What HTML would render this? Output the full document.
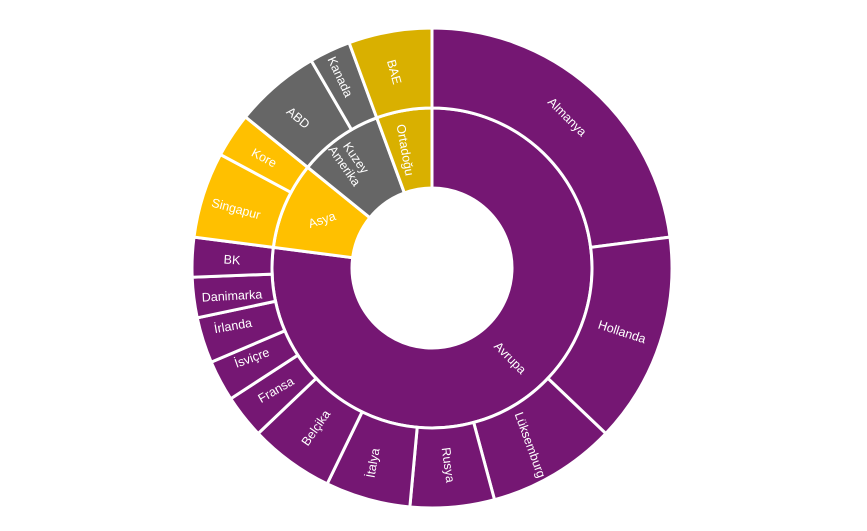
<!DOCTYPE html>
<html><head><meta charset="utf-8"><style>
html,body{margin:0;padding:0;background:#fff;width:867px;height:531px;overflow:hidden}
svg{display:block}
text{font-family:"Liberation Sans",sans-serif;font-size:12.5px;fill:#fff;text-anchor:middle;dominant-baseline:central}
</style></head><body>
<svg id="s" width="867" height="531" viewBox="0 0 867 531">
<g id="arcs"></g>
<g>
<text transform="translate(567,117) rotate(45)">Almanya</text>
<text transform="translate(622,332) rotate(18)">Hollanda</text>
<text transform="translate(530,445) rotate(70)">Lüksemburg</text>
<text transform="translate(448,465) rotate(82)">Rusya</text>
<text transform="translate(373,463) rotate(-80)">İtalya</text>
<text transform="translate(316,428) rotate(-55)">Belçika</text>
<text transform="translate(276,390) rotate(-30)">Fransa</text>
<text transform="translate(252,358) rotate(-20)">İsviçre</text>
<text transform="translate(233,326) rotate(-10)">İrlanda</text>
<text transform="translate(232,296) rotate(-3)">Danimarka</text>
<text transform="translate(232,260) rotate(4)">BK</text>
<text transform="translate(236,209) rotate(15)">Singapur</text>
<text transform="translate(264,158) rotate(28)">Kore</text>
<text transform="translate(298,118) rotate(40)">ABD</text>
<text transform="translate(340,77) rotate(65)">Kanada</text>
<text transform="translate(394,72) rotate(75)">BAE</text>
<text transform="translate(405,150) rotate(80)">Ortadoğu</text>
<text transform="translate(350,162) rotate(55)"><tspan x="0" dy="-7">Kuzey</tspan><tspan x="0" dy="14">Amerika</tspan></text>
<text transform="translate(322,220) rotate(-18)">Asya</text>
<text transform="translate(510,358) rotate(45)">Avrupa</text>
</g>
</svg>
<script>
var cx=432,cy=268;
var P='#751773',Y='#FFC000',G='#666666',D='#D9B000';
function pt(r,a){a=a*Math.PI/180;return [cx+r*Math.sin(a),cy-r*Math.cos(a)];}
function seg(r0,r1,a0,a1,c){
 var p1=pt(r1,a0),p2=pt(r1,a1),p3=pt(r0,a1),p4=pt(r0,a0),l=(a1-a0)>180?1:0;
 return '<path d="M'+p1+' A'+r1+','+r1+' 0 '+l+' 1 '+p2+' L'+p3+' A'+r0+','+r0+' 0 '+l+' 0 '+p4+' Z" fill="'+c+'" stroke="#fff" stroke-width="3"/>';
}
var inner=[[0,277.4,P],[277.4,309,Y],[309,339.8,G],[339.8,360,D]];
var outer=[[0,82.6,P],[82.6,133.6,P],[133.6,164.9,P],[164.9,185.3,P],[185.3,205.9,P],[205.9,226.4,P],[226.4,237,P],[237,246.9,P],[246.9,258,P],[258,267.8,P],[267.8,277.4,P],[277.4,298.2,Y],[298.2,309,Y],[309,329.8,G],[329.8,339.8,G],[339.8,360,D]];
var h='';
inner.forEach(function(s){h+=seg(80,160,s[0],s[1],s[2]);});
outer.forEach(function(s){h+=seg(160,240,s[0],s[1],s[2]);});
document.getElementById('arcs').innerHTML=h;
</script>
</body></html>
